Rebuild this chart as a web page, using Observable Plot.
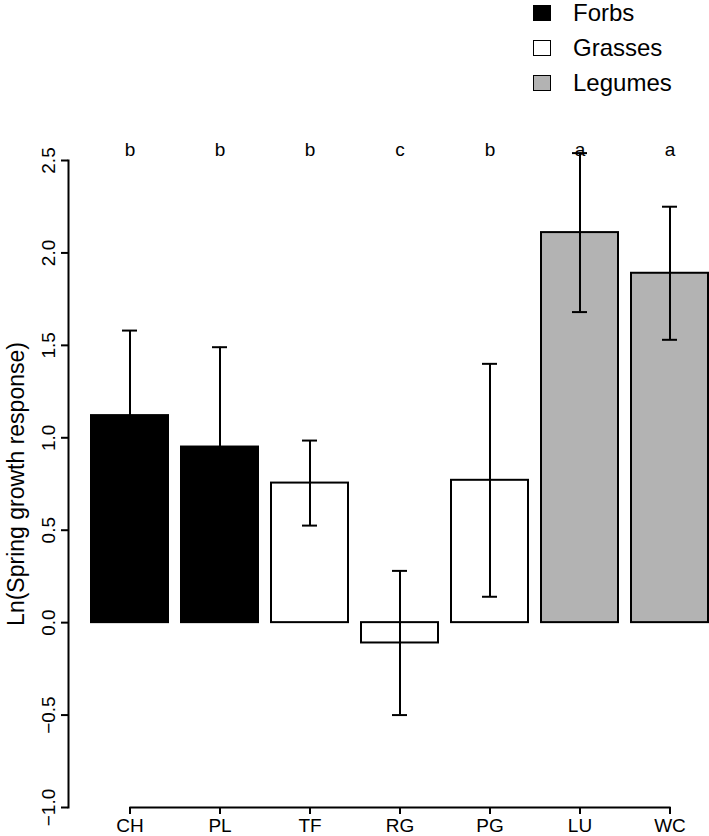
<!DOCTYPE html>
<html><head><meta charset="utf-8">
<script src="https://cdn.jsdelivr.net/npm/d3@7"></script>
<script src="https://cdn.jsdelivr.net/npm/@observablehq/plot@0.6"></script>
<style>
html,body{margin:0;padding:0;background:#fff;overflow:hidden;}
#wrap{position:relative;width:709px;height:836px;font-family:"Liberation Sans",Arial,sans-serif;}
#legend{position:absolute;left:533px;top:0;}
.row{position:absolute;left:0;height:36px;display:flex;align-items:center;white-space:nowrap;}
.sw{width:16px;height:14px;border:1.5px solid #000;margin-right:22px;}
.lab{font-size:24px;color:#000;}
</style></head><body>
<div id="wrap"><div id="chart"></div><div id="legend"></div></div>
<script>
const species = ["CH","PL","TF","RG","PG","LU","WC"];
const groups = ["Forbs","Forbs","Grasses","Grasses","Grasses","Legumes","Legumes"];
const means = [1.12, 0.95, 0.755, -0.11, 0.77, 2.11, 1.89];
const se = [0.46, 0.54, 0.23, 0.39, 0.63, 0.43, 0.36];
const letters = ["b","b","b","c","b","a","a"];
const groupNames = ["Forbs","Grasses","Legumes"];
const groupColors = ["#000000","#ffffff","#b3b3b3"];
const yTicks = [-1.0,-0.5,0,0.5,1.0,1.5,2.0,2.5];
const yTitle = "Ln(Spring growth response)";

const data = species.map((s,i)=>({species:s, group:groups[i], mean:means[i], lo:means[i]-se[i], hi:means[i]+se[i], letter:letters[i]}));
const fmt = d => d.toFixed(1).replace("-", "\u2212");

const chart = Plot.plot({
  width:709, height:836, marginTop:160, marginBottom:29, marginLeft:68, marginRight:1,
  style:{fontFamily:"Liberation Sans, Arial, sans-serif", fontSize:"18px", color:"#000", background:"#fff"},
  x:{type:"band", domain:species, paddingInner:0.143, paddingOuter:0.115, align:1, axis:null},
  y:{domain:[-1,2.5], axis:null},
  color:{domain:groupNames, range:groupColors},
  marks:[
    Plot.barY(data,{x:"species", y1:0, y2:"mean", fill:"group", stroke:"#000", strokeWidth:2}),
    Plot.ruleX(data,{x:"species", y1:"lo", y2:"hi", stroke:"#000", strokeWidth:2}),
    Plot.tickY(data,{x:"species", y:"lo", insetLeft:31, insetRight:31, stroke:"#000", strokeWidth:2}),
    Plot.tickY(data,{x:"species", y:"hi", insetLeft:31, insetRight:31, stroke:"#000", strokeWidth:2}),
    Plot.text(data,{x:"species", text:"letter", frameAnchor:"top", dy:-18, fontSize:19, fill:"#000"}),
    Plot.frame({anchor:"left", stroke:"#000", strokeWidth:2}),
    Plot.axisY({ticks:yTicks, tickSize:7, tickFormat:()=>"", label:null, stroke:"#000", strokeWidth:2}),
    Plot.text(yTicks,{y:d=>d, text:fmt, frameAnchor:"left", dx:-20, rotate:-90, textAnchor:"middle", lineAnchor:"middle", fontSize:19, fill:"#000"}),
    Plot.text([yTitle],{text:d=>d, frameAnchor:"left", dx:-52, rotate:-90, textAnchor:"middle", lineAnchor:"middle", fontSize:23, fill:"#000"}),
    Plot.lineY(data,{x:"species", y:()=>-1, stroke:"#000", strokeWidth:2}),
    Plot.axisX({tickSize:7, tickPadding:4, label:null, fontSize:19, stroke:"#000", strokeWidth:2})
  ]
});
document.getElementById("chart").appendChild(chart);

const leg = document.getElementById("legend");
groupNames.forEach((g,i)=>{
  const r = document.createElement("div");
  r.className="row"; r.style.top=(i*35-5)+"px";
  r.innerHTML = `<div class="sw" style="background:${groupColors[i]}"></div><span class="lab">${g}</span>`;
  leg.appendChild(r);
});
</script>
</body></html>
